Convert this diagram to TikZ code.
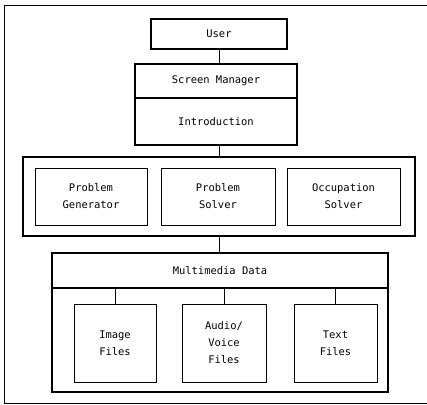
\documentclass[tikz,border=0pt]{standalone}
\usepackage{fontspec}
\setmonofont{DejaVu Sans Mono}
\begin{document}
\begin{tikzpicture}[x=1bp, y=-1bp]

\tikzstyle{box1}=[rectangle, draw, line width=2.2bp, inner sep=0pt, align=center, font=\ttfamily\fontsize{10.5}{17}\selectfont]
\tikzstyle{box2}=[rectangle, draw, line width=1.5bp, inner sep=0pt, align=center, font=\ttfamily\fontsize{10.5}{17}\selectfont]
\tikzstyle{box3}=[rectangle, draw, line width=0.8bp, inner sep=0pt, align=center, font=\ttfamily\fontsize{10.5}{17}\selectfont]
\tikzstyle{line}=[line width=1bp]

\useasboundingbox (0,0) rectangle (427,405);
\draw [line] (427,5) -- (4,5) -- (4,403) -- (427,403);

\node (U) [box1, minimum width=136bp, minimum height=30bp] at (219,34) {User};

\node (SM) [box2, minimum width=162bp, minimum height=34bp] at (216,81) {Screen Manager};
\node (IN) [box2, minimum width=162bp, minimum height=47bp] at (216,121.5) {Introduction};

\node (T) [box1, minimum width=392bp, minimum height=79bp] at (219,196.5) {};
\node (PG) [box3, minimum width=112bp, minimum height=57bp] at (91,196.5) {Problem\\Generator};
\node (PS) [box3, minimum width=114bp, minimum height=57bp] at (218,196.5) {Problem\\Solver};
\node (OS) [box3, minimum width=113bp, minimum height=57bp] at (343.5,196.5) {Occupation\\Solver};

\node (M) [box1, minimum width=336bp, minimum height=139bp] at (220,322.5) {};
\node (MD) [box2, minimum width=336bp, minimum height=35bp] at (220,270.5) {Multimedia Data};
\node (IF) [box3, minimum width=82bp, minimum height=78bp] at (115,343) {Image\\Files};
\node (AF) [box3, minimum width=84bp, minimum height=78bp] at (224,343) {Audio/\\Voice\\Files};
\node (TF) [box3, minimum width=83bp, minimum height=78bp] at (335.5,343) {Text\\Files};

\draw [line] (U.south) -- (U.south |- SM.north);
\draw [line] (T.north |- IN.south) -- (T.north);
\draw [line] (T.south) -- (T.south |- MD.north);
\draw [line] (IF.north) -- (IF.north |- MD.south);
\draw [line] (AF.north) -- (AF.north |- MD.south);
\draw [line] (TF.north) -- (TF.north |- MD.south);

\end{tikzpicture}
\end{document}
